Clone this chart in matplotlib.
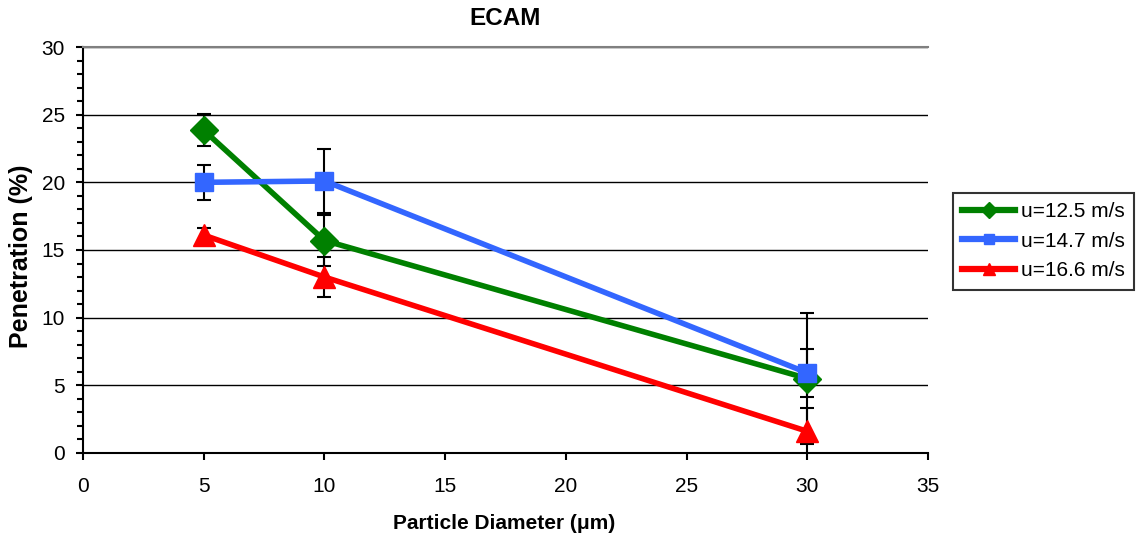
import numpy as np
import matplotlib
matplotlib.use("Agg")
import matplotlib.pyplot as plt
from matplotlib.ticker import MultipleLocator

plt.rcParams['font.family'] = ['Liberation Sans', 'DejaVu Sans']

# particle diameters (um) and penetration (%) with error bar half-widths
diameters = [5, 10, 30]

pen_125 = [23.85, 15.7, 5.5]
err_125 = [1.2, 1.85, 4.86]

pen_147 = [20.0, 20.1, 5.92]
err_147 = [1.3, 2.35, 1.76]

pen_166 = [16.1, 13.0, 1.6]
err_166 = [0.5, 1.45, 1.7]

labels = ["u=12.5 m/s", "u=14.7 m/s", "u=16.6 m/s"]
colors = ["#008000", "#3366FF", "#FF0000"]
markers = ["D", "s", "^"]
msizes = [14, 13.5, 16]
leg_msizes = [8, 7, 9]

fig = plt.figure(figsize=(11.36, 5.39), dpi=100)
ax = fig.add_axes([0.0731, 0.1596, 0.7439, 0.7532])

series = [(pen_125, err_125), (pen_147, err_147), (pen_166, err_166)]
for (vals, errs), lab, col, mk, ms, lms in zip(series, labels, colors, markers, msizes, leg_msizes):
    ax.errorbar(diameters, vals, yerr=errs, fmt='none', ecolor='black',
                elinewidth=1.5, capsize=5, capthick=1.5, zorder=3)
    ax.plot(diameters, vals, color=col, lw=4, zorder=2)
    ax.plot(diameters, vals, color=col, marker=mk, markersize=ms,
            markerfacecolor=col, markeredgecolor=col, linestyle='none', zorder=4)
    ax.plot([], [], color=col, lw=4.5, marker=mk, markersize=lms,
            markerfacecolor=col, markeredgecolor=col, label=lab)

ax.set_xlim(0, 35)
ax.set_ylim(0, 30)
ax.xaxis.set_major_locator(MultipleLocator(5))
ax.yaxis.set_major_locator(MultipleLocator(5))
ax.yaxis.set_minor_locator(MultipleLocator(1))
ax.yaxis.grid(True, which='major', color='black', lw=1)
ax.set_axisbelow(True)

ax.spines['right'].set_visible(False)
ax.spines['top'].set_color('#808080')
ax.spines['top'].set_linewidth(1.5)
ax.spines['left'].set_linewidth(1.5)
ax.spines['bottom'].set_linewidth(1.5)
ax.tick_params(axis='both', which='major', direction='out', length=5, width=1.5)
ax.tick_params(axis='x', labelsize=15, pad=12)
ax.tick_params(axis='y', labelsize=15, pad=8)
ax.tick_params(axis='y', which='minor', direction='out', length=4, width=1.5)

# title and axis labels placed in figure coordinates
fig.text(0.4445, 0.965, "ECAM", fontsize=17.5, fontweight='bold', ha='center', va='center')
fig.text(0.444, 0.028, "Particle Diameter (\u03bcm)", fontsize=15, fontweight='bold',
         ha='center', va='center')
fig.text(0.0185, 0.524, "Penetration (%)", fontsize=18, fontweight='bold',
         ha='center', va='center', rotation=90)

leg = fig.legend(loc='upper left', bbox_to_anchor=(0.839, 0.642), fontsize=15,
                 frameon=True, fancybox=False, edgecolor='black', handlelength=2.5,
                 numpoints=1, borderpad=0.45, labelspacing=0.5, handletextpad=0.3,
                 borderaxespad=0)
leg.get_frame().set_linewidth(1.5)

fig.savefig("out.png", dpi=100)
